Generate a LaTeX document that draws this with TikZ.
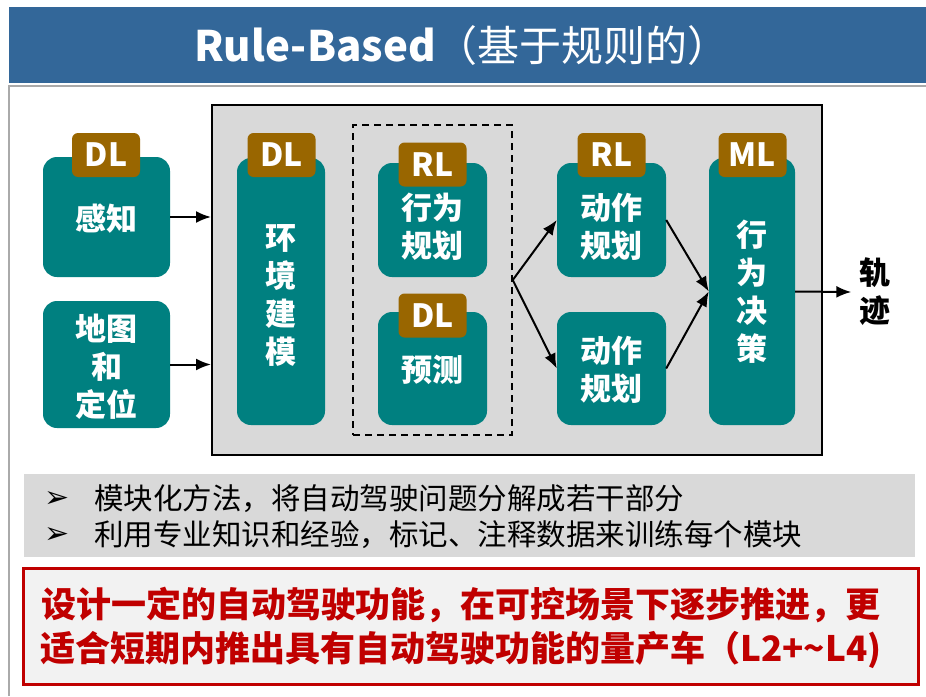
\documentclass[tikz,border=0pt]{standalone}
\usepackage{fontspec}
\setmainfont{Noto Sans CJK SC}
\newfontfamily\symfont{DejaVu Sans}
\usetikzlibrary{arrows.meta}
\definecolor{hdrblue}{RGB}{51,103,153}
\definecolor{tealc}{RGB}{0,128,128}
\definecolor{tagc}{RGB}{153,102,0}
\definecolor{boxgray}{RGB}{217,217,217}
\definecolor{framegray}{RGB}{170,170,170}
\definecolor{redc}{RGB}{192,0,0}
\definecolor{redfill}{RGB}{242,242,242}
\begin{document}
\begin{tikzpicture}[x=1pt,y=-1pt,
  mod/.style={fill=tealc, rounded corners=14pt, inner sep=0pt},
  modtext/.style={text=white, font=\fontsize{31}{38}\selectfont\bfseries, align=center, inner sep=0pt},
  tag/.style={fill=tagc, rounded corners=6pt, text=white, font=\fontsize{32}{32}\selectfont\bfseries, minimum width=68pt, minimum height=44pt, inner sep=0pt},
  arr/.style={-{Latex[length=15pt,width=12pt]}, line width=2pt, black},
  bulsym/.style={font=\symfont\fontsize{30}{30}\selectfont, inner sep=0pt},
  bultext/.style={anchor=west, font=\fontsize{29.5}{29.5}\selectfont, inner sep=0pt}
]
\useasboundingbox (0,0) rectangle (926,696);
\fill[white] (0,0) rectangle (926,696);
\draw[framegray, line width=1.2pt] (9,696) -- (9,86) -- (926,86);
% header
\node[fill=hdrblue, minimum width=917pt, minimum height=76pt, inner sep=0pt] (hdr) at (467.5,45) {};
\node[text=white, font=\fontsize{42}{42}\selectfont, inner sep=0pt] (title) at (462,46) {\bfseries Rule-Based\mdseries（基于规则的）};
% main gray box
\node[draw=black, line width=2pt, fill=boxgray, minimum width=610pt, minimum height=350pt, inner sep=0pt] (main) at (517,280) {};
\node[draw=black, line width=1.5pt, dash pattern=on 7pt off 5pt, minimum width=159pt, minimum height=310pt, inner sep=0pt] (dash) at (432.5,280) {};
% modules
\node[mod, minimum width=127pt, minimum height=120pt] (perc) at (106.5,217) {};
\node[mod, minimum width=127pt, minimum height=127pt] (map) at (106.5,364.5) {};
\node[mod, minimum width=88pt, minimum height=267pt] (env) at (281,291.5) {};
\node[mod, minimum width=109pt, minimum height=114pt] (beh) at (432.5,220) {};
\node[mod, minimum width=109pt, minimum height=113pt] (pred) at (432.5,368.5) {};
\node[mod, minimum width=109pt, minimum height=114pt] (act1) at (611.5,220) {};
\node[mod, minimum width=109pt, minimum height=113pt] (act2) at (611.5,368.5) {};
\node[mod, minimum width=86pt, minimum height=267pt] (dec) at (752,291.5) {};
% tags
\node[tag] (tperc) at (106,155) {DL};
\node[tag] (tenv) at (281.5,155) {DL};
\node[tag] (tbeh) at (432.5,164.5) {RL};
\node[tag] (tpred) at (432.5,315.5) {DL};
\node[tag] (tact1) at (611.5,155) {RL};
\node[tag] (tdec) at (752.5,155) {ML};
% module texts
\node[modtext] (xperc) at (106.5,219) {感知};
\node[modtext] (xmap) at (106.5,367) {地图\\和\\定位};
\node[modtext] (xenv) at (281,295) {环\\境\\建\\模};
\node[modtext] (xbeh) at (432.5,227) {行为\\规划};
\node[modtext] (xpred) at (432.5,370) {预测};
\node[modtext] (xact1) at (611.5,227) {动作\\规划};
\node[modtext] (xact2) at (611.5,370) {动作\\规划};
\node[modtext] (xdec) at (752,292) {行\\为\\决\\策};
\node[modtext, text=black, inner xsep=8pt] (traj) at (875,292) {轨\\迹};
% arrows
\draw[arr] (perc.east) -- (perc.east -| main.west);
\draw[arr] (map.east) -- (map.east -| main.west);
\draw[arr] (dash.east) -- (act1.west);
\draw[arr] (dash.east) -- (act2.west);
\draw[arr] (act1.east) -- (dec.west);
\draw[arr] (act2.east) -- (dec.west);
\draw[arr] (dec.east) -- (traj.west);
% bullets
\node[fill=boxgray, minimum width=891pt, minimum height=83pt, inner sep=0pt] (bul) at (469.5,515.5) {};
\node[bulsym] (b1) at (57,499) {➢};
\node[bulsym] (b2) at (57,535) {➢};
\node[bultext] (l1) at (94,499) {模块化方法，将自动驾驶问题分解成若干部分};
\node[bultext] (l2) at (94,535) {利用专业知识和经验，标记、注释数据来训练每个模块};
% red box
\node[draw=redc, line width=3pt, fill=redfill, minimum width=895pt, minimum height=116pt, inner sep=0pt] (redbox) at (470.5,626) {};
\node[text=redc, font=\fontsize{35}{44}\selectfont\bfseries, align=center, inner sep=0pt] (redtext) at (461,628) {设计一定的自动驾驶功能，在可控场景下逐步推进，更\\适合短期内推出具有自动驾驶功能的量产车（L2+\textasciitilde L4)};
\end{tikzpicture}
\end{document}
